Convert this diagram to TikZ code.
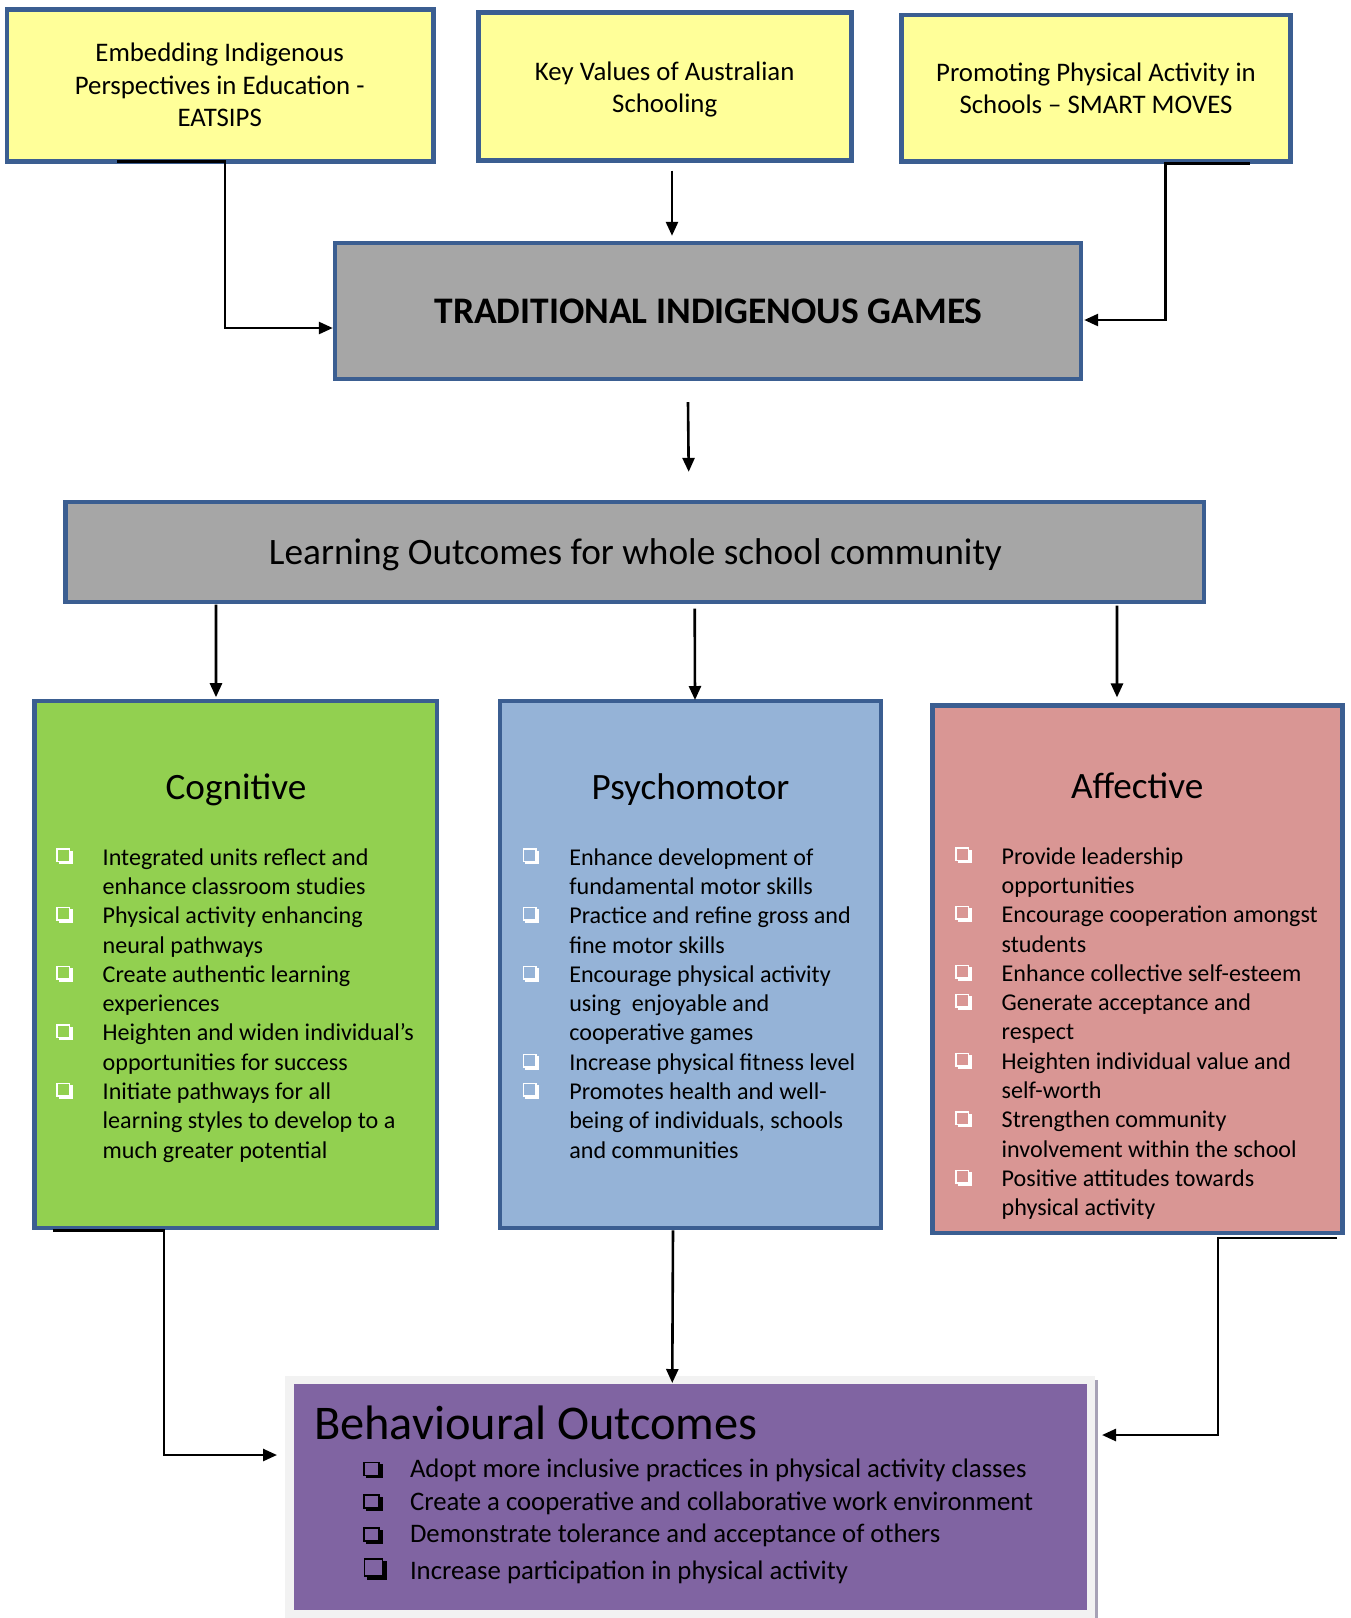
\documentclass[tikz,border=0pt]{standalone}
\usepackage{fontspec}
\setmainfont{Carlito}
\usetikzlibrary{arrows.meta,calc}

\definecolor{edgeblue}{HTML}{3B5E91}
\definecolor{yelfill}{HTML}{FFFF99}
\definecolor{greyfill}{HTML}{A6A6A6}
\definecolor{cogfill}{HTML}{92D050}
\definecolor{psyfill}{HTML}{95B3D7}
\definecolor{afffill}{HTML}{D99694}
\definecolor{behfill}{HTML}{8064A2}
\definecolor{behframe}{HTML}{F2F2F2}
\definecolor{behshade}{HTML}{A7A2B6}

\newcommand\fsTop{\fontsize{26.8}{32.5}\selectfont}
\newcommand\fsGames{\fontsize{37.5}{45}\selectfont\bfseries}
\newcommand\fsOutcome{\fontsize{37.3}{45}\selectfont}
\newcommand\fsHead{\fontsize{37.2}{45}\selectfont}
\newcommand\fsList{\fontsize{24.1}{29.33}\selectfont}
\newcommand\fsBehHead{\fontsize{48.4}{58}\selectfont}
\newcommand\fsBehList{\fontsize{26.75}{32}\selectfont}

\tikzset{
  panel/.style={draw=edgeblue, line width=4.5pt, inner sep=0pt, outer sep=0pt},
  txt/.style={inner sep=0pt, outer sep=0pt},
  conn/.style={line width=2.6pt, -{Triangle[length=14pt,width=12pt]}},
  chk/.pic={
    \draw[line width=1.5pt] (0.75,0.75) rectangle (13.25,13.25);
    \fill (13.25,2.5) rectangle (16.5,16);
    \fill (2.5,13.25) rectangle (16.5,16);
  }
}

\begin{document}
\begin{tikzpicture}[x=1pt,y=-1pt]
\useasboundingbox (0,0) rectangle (1351,1618);

% ---- source boxes ----
\node[panel, fill=yelfill, minimum width=426.5pt, minimum height=152pt] (eip) at (220,85.5) {};
\node[panel, fill=yelfill, minimum width=373pt, minimum height=148pt] (kv) at (665,86.5) {};
\node[panel, fill=yelfill, minimum width=389pt, minimum height=146.5pt] (pa) at (1096,88) {};

\node[txt, anchor=base] (eiptext) at (219.7,61.7) {\fsTop\begin{tabular}[t]{@{}c@{}}Embedding Indigenous\\Perspectives in Education -\\EATSIPS\end{tabular}};
\node[txt, anchor=base] (kvtext) at (664.7,80) {\fsTop\begin{tabular}[t]{@{}c@{}}Key Values of Australian\\Schooling\end{tabular}};
\node[txt, anchor=base] (patext) at (1096,81) {\fsTop\begin{tabular}[t]{@{}c@{}}Promoting Physical Activity in\\Schools -- SMART MOVES\end{tabular}};

% ---- central boxes ----
\node[panel, fill=greyfill, minimum width=746.4pt, minimum height=136.4pt] (tig) at (708,311) {};
\node[txt, anchor=base] (tigtext) at (708.6,323.3) {\fsGames TRADITIONAL INDIGENOUS GAMES};

\node[panel, fill=greyfill, minimum width=1138.5pt, minimum height=100.3pt] (lo) at (634.7,552) {};
\node[txt, anchor=base] (lotext) at (635.5,564.3) {\fsOutcome Learning Outcomes for whole school community};

% ---- domain boxes ----
\node[panel, fill=cogfill, minimum width=402.7pt, minimum height=526.6pt] (cog) at (235.8,964.5) {};
\node[panel, fill=psyfill, minimum width=381pt, minimum height=526.6pt] (psy) at (690.5,964.5) {};
\node[panel, fill=afffill, minimum width=410pt, minimum height=527.5pt] (aff) at (1137.5,969.2) {};

\node[txt, anchor=base] (coghead) at (236,799) {\fsHead Cognitive};
\node[txt, anchor=base] (psyhead) at (690.5,799) {\fsHead Psychomotor};
\node[txt, anchor=base] (affhead) at (1137.2,798.3) {\fsHead Affective};

\node[txt, anchor=base west] (coglist) at (102.7,865) {\fsList\begin{tabular}[t]{@{}l@{}}
Integrated units reflect and\\
enhance classroom studies\\
Physical activity enhancing\\
neural pathways\\
Create authentic learning\\
experiences\\
Heighten and widen individual’s\\
opportunities for success\\
Initiate pathways for all\\
learning styles to develop to a\\
much greater potential\end{tabular}};

\node[txt, anchor=base west] (psylist) at (569.3,865) {\fsList\begin{tabular}[t]{@{}l@{}}
Enhance development of\\
fundamental motor skills\\
Practice and refine gross and\\
fine motor skills\\
Encourage physical activity\\
using~~enjoyable and\\
cooperative games\\
Increase physical fitness level\\
Promotes health and well-\\
being of individuals, schools\\
and communities\end{tabular}};

\node[txt, anchor=base west] (afflist) at (1001.7,864) {\fsList\begin{tabular}[t]{@{}l@{}}
Provide leadership\\
opportunities\\
Encourage cooperation amongst\\
students\\
Enhance collective self-esteem\\
Generate acceptance and\\
respect\\
Heighten individual value and\\
self-worth\\
Strengthen community\\
involvement within the school\\
Positive attitudes towards\\
physical activity\end{tabular}};

% check-box bullets
\foreach \k in {0,2,4,6,8} \pic[white] at (56,{865+29.33*\k-16.7}) {chk};
\foreach \k in {0,2,4,7,8} \pic[white] at (522.7,{865+29.33*\k-16.7}) {chk};
\foreach \k in {0,2,4,5,7,9,11} \pic[white] at (955,{864+29.33*\k-16.7}) {chk};

% ---- behavioural outcomes ----
\fill[behframe] (285,1376) rectangle (1095,1618);
\fill[behshade] (1095,1380) rectangle (1097.5,1618);
\node[fill=behfill, inner sep=0pt, outer sep=0pt, minimum width=793.5pt, minimum height=225.5pt] (beh) at (690.25,1496.75) {};

\node[txt, anchor=base west] (behhead) at (314,1439.3) {\fsBehHead Behavioural Outcomes};
\node[txt, anchor=base west] (behA) at (410,1477.3) {\fsBehList Adopt more inclusive practices in physical activity classes};
\node[txt, anchor=base west] (behB) at (410,1510) {\fsBehList Create a cooperative and collaborative work environment};
\node[txt, anchor=base west] (behC) at (410,1542.7) {\fsBehList Demonstrate tolerance and acceptance of others};
\node[txt, anchor=base west] (behD) at (410,1579.3) {\fsBehList Increase participation in physical activity};

\pic[black, xscale=1.18, yscale=1.04] at (363.3,1461.7) {chk};
\pic[black, xscale=1.18, yscale=1.04] at (363.3,1494.4) {chk};
\pic[black, xscale=1.18, yscale=1.04] at (363.3,1527.1) {chk};
\pic[black, xscale=1.45, yscale=1.375] at (363.3,1558) {chk};

% ---- connectors ----
\draw[conn] ($(eip.south west)+(110.5,0)$) -| ($(tig.west)+(-110,17)$) -- ($(tig.west)+(-2,17)$);
\draw[conn] ($(kv.south)+(7,10)$) -- ($(tig.north)+(-36,-7)$);
\draw[conn] ($(pa.south east)+(-41,2.5)$) -| ($(tig.east)+(84,9)$) -- ($(tig.east)+(3,9)$);
\draw[conn] ($(tig.south)+(-20,23)$) -- ($(lo.north)+(54,-30)$);

\draw[conn] ($(lo.south west)+(150.5,2.5)$) -- ($(cog.north)+(-19.8,-4)$);
\draw[conn] ($(lo.south)+(60,6.5)$) -- ($(psy.north)+(4.5,-1.2)$);
\draw[conn] ($(lo.south east)+(-87,3.5)$) -- ($(aff.north)+(-20.5,-8)$);

\draw[conn] ($(cog.south west)+(18.5,2.5)$) -| ($(beh.west)+(-129.5,-41.75)$) -- ($(beh.west)+(-16.5,-41.75)$);
\draw[conn] ($(psy.south)+(-17.5,2.5)$) -- ($(beh.north)+(-18,-1)$);
\draw[conn] ($(aff.south east)+(-5.5,5)$) -| ($(beh.east)+(131,-61.75)$) -- ($(beh.east)+(15,-61.75)$);
\end{tikzpicture}
\end{document}
